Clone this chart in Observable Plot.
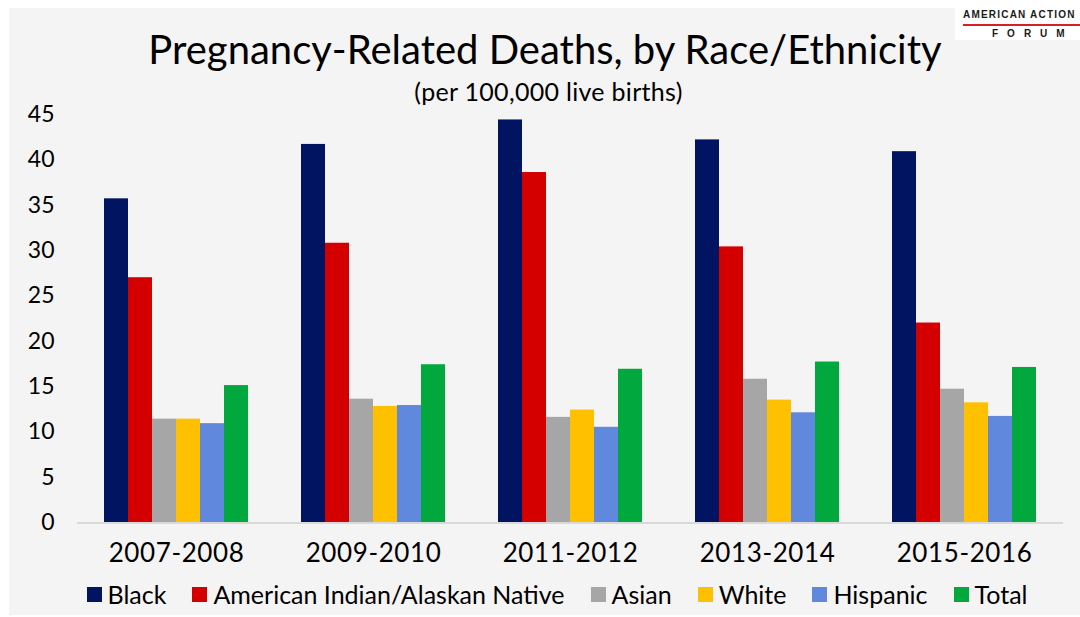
<!DOCTYPE html>
<html>
<head>
<meta charset="utf-8">
<script src="https://cdn.jsdelivr.net/npm/d3@7"></script>
<script src="https://cdn.jsdelivr.net/npm/@observablehq/plot@0.6"></script>
<style>
  html, body { margin: 0; padding: 0; background: #ffffff; }
  body { width: 1080px; height: 617px; position: relative; overflow: hidden; font-family: Lato, "Open Sans", sans-serif; color: #000; }
  #panel { position: absolute; left: 9px; top: 8px; width: 1071px; height: 607px; background: #f4f4f4; }
  #chart { position: absolute; left: 0; top: 0; }
  #title { position: absolute; left: 0; width: 1090px; top: 25px; text-align: center; font-size: 40px; line-height: 48px; white-space: nowrap; }
  #subtitle { position: absolute; left: 0; width: 1097px; top: 76px; text-align: center; font-size: 25px; line-height: 30px; white-space: nowrap; letter-spacing: 0.3px; }
  #legend { position: absolute; left: 0; width: 1114px; top: 579px; display: flex; justify-content: center; gap: 26px; font-size: 25px; line-height: 30px; white-space: nowrap; }
  .item { display: flex; align-items: center; }
  .sw { width: 15px; height: 15px; margin-right: 6px; display: inline-block; }
  #logo { position: absolute; left: 955px; top: 0; width: 125px; height: 40px; background: #ffffff; }
  #logo .l1 { position: absolute; left: 8px; top: 9px; font: bold 10px Arial, "Liberation Sans", sans-serif; letter-spacing: 1.2px; color: #1a1a1a; white-space: nowrap; }
  #logo .rule { position: absolute; left: 8px; top: 24px; width: 117px; height: 2px; background: #d42027; }
  #logo .l2 { position: absolute; left: 37px; top: 28px; font: bold 10px Arial, "Liberation Sans", sans-serif; letter-spacing: 9px; color: #1a1a1a; white-space: nowrap; }
</style>
</head>
<body>
<div id="panel"></div>
<div id="chart"></div>
<div id="title">Pregnancy-Related Deaths, by Race/Ethnicity</div>
<div id="subtitle">(per 100,000 live births)</div>
<div id="legend"></div>
<div id="logo"><div class="l1">AMERICAN ACTION</div><div class="rule"></div><div class="l2">FORUM</div></div>
<script>
// ---- Data ----
const periods = ["2007-2008", "2009-2010", "2011-2012", "2013-2014", "2015-2016"];
const groups = ["Black", "American Indian/Alaskan Native", "Asian", "White", "Hispanic", "Total"];
const black    = [35.7, 41.7, 44.4, 42.2, 40.9];
const amIndian = [27.0, 30.8, 38.6, 30.4, 22.0];
const asian    = [11.4, 13.6, 11.6, 15.8, 14.7];
const white    = [11.4, 12.8, 12.4, 13.5, 13.2];
const hispanic = [10.9, 12.9, 10.5, 12.1, 11.7];
const total    = [15.1, 17.4, 16.9, 17.7, 17.1];
const yTicks = [0, 5, 10, 15, 20, 25, 30, 35, 40, 45];
const colors = ["#001462", "#d40000", "#a6a6a6", "#ffc000", "#6088dc", "#00a83e"];

const series = [black, amIndian, asian, white, hispanic, total];
const data = periods.flatMap((p, i) => groups.map((g, j) => ({period: p, group: g, value: series[j][i]})));

const W = 1080, H = 575, mL = 77, mR = 17;
const chart = Plot.plot({
  width: W,
  height: H,
  marginTop: 114,
  marginBottom: 53,
  marginLeft: mL,
  marginRight: mR,
  style: {background: "transparent", fontFamily: "Lato, 'Open Sans', sans-serif", color: "#000", overflow: "visible"},
  fx: {domain: periods, paddingInner: 0.257, paddingOuter: 0.129, axis: "bottom", tickSize: 0, tickPadding: 21, label: null},
  x: {domain: groups, axis: null, padding: 0},
  y: {domain: [0, 45], ticks: yTicks, tickSize: 0, tickPadding: 49, label: null},
  color: {domain: groups, range: colors},
  marks: [
    Plot.barY(data, {fx: "period", x: "group", y: "value", fill: "group", inset: 0})
  ]
});
// axis fonts
chart.querySelectorAll("g[aria-label='y-axis tick label']").forEach(g => g.setAttribute("font-size", "23"));
chart.querySelectorAll("g[aria-label='fx-axis tick label']").forEach(g => { g.setAttribute("font-size", "26"); g.setAttribute("letter-spacing", "0.6"); });

// baseline across the whole plot, positioned with the y scale
const y0 = chart.scale("y").apply(0);
const ns = "http://www.w3.org/2000/svg";
const line = document.createElementNS(ns, "line");
line.setAttribute("x1", mL);
line.setAttribute("x2", W - mR);
line.setAttribute("y1", y0 + 1);
line.setAttribute("y2", y0 + 1);
line.setAttribute("stroke", "#d9d9d9");
line.setAttribute("stroke-width", 2);
chart.appendChild(line);

document.getElementById("chart").appendChild(chart);

// legend
const legend = document.getElementById("legend");
groups.forEach((g, i) => {
  const item = document.createElement("span");
  item.className = "item";
  const sw = document.createElement("span");
  sw.className = "sw";
  sw.style.background = colors[i];
  const label = document.createElement("span");
  label.textContent = g;
  item.appendChild(sw);
  item.appendChild(label);
  legend.appendChild(item);
});
</script>
</body>
</html>
